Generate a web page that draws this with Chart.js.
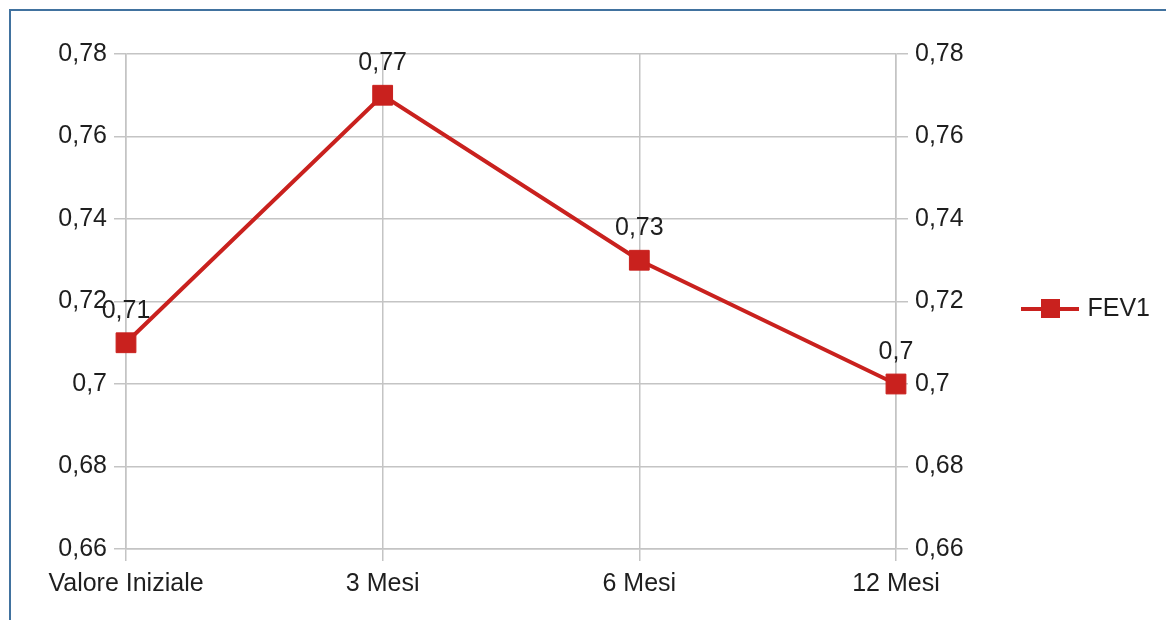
<!DOCTYPE html>
<html>
<head>
<meta charset="utf-8">
<script src="https://cdn.jsdelivr.net/npm/chart.js@4"></script>
<style>
  html, body { margin: 0; padding: 0; background: #fff; overflow: hidden; }
  #frame { position: absolute; left: 9px; top: 9px; width: 1300px; height: 800px;
           border-top: 2px solid #41729f; border-left: 2px solid #41729f; }
  #chart { position: absolute; left: 0; top: 0; }
</style>
</head>
<body>
<div id="frame"></div>
<canvas id="chart" width="1166" height="620"></canvas>
<script>
// data
const categories = ['Valore Iniziale', '3 Mesi', '6 Mesi', '12 Mesi'];
const fev1 = [0.71, 0.77, 0.73, 0.70];
const yTicks = [0.66, 0.68, 0.70, 0.72, 0.74, 0.76, 0.78];

const red = '#c9211e';
const gridColor = '#c4c4c4';
const textColor = '#1e1e1e';
const fontFamily = '"Liberation Sans", Arial, sans-serif';

Chart.defaults.font.family = fontFamily;
Chart.defaults.font.size = 25;
Chart.defaults.color = textColor;

// italian decimal comma, no trailing zero
const fmt = v => String(+(+v).toFixed(2)).replace('.', ',');

// legend symbol: line with a square marker
const legendIcon = document.createElement('canvas');
legendIcon.width = 58;
legendIcon.height = 20;
(function () {
    const c = legendIcon.getContext('2d');
    c.fillStyle = red;
    c.fillRect(0, 8, 58, 4);
    c.fillRect(20, 0, 19, 19);
})();

const valueLabels = {
    id: 'valueLabels',
    afterDatasetsDraw(chart) {
        const ctx = chart.ctx;
        const meta = chart.getDatasetMeta(0);
        ctx.save();
        ctx.font = '25px ' + fontFamily;
        ctx.fillStyle = textColor;
        ctx.textAlign = 'center';
        ctx.textBaseline = 'middle';
        meta.data.forEach((pt, i) => ctx.fillText(fmt(fev1[i]), pt.x, pt.y - 32));
        ctx.restore();
    }
};

const setTicks = scale => { scale.ticks = yTicks.map(v => ({ value: v })); };

new Chart(document.getElementById('chart'), {
    type: 'line',
    data: {
        labels: categories,
        datasets: [{
            label: 'FEV1',
            data: fev1,
            borderColor: red,
            backgroundColor: red,
            borderWidth: 4,
            pointStyle: 'rect',
            pointRadius: 14,
            pointHoverRadius: 14,
            pointBorderWidth: 1,
            pointBackgroundColor: red,
            pointBorderColor: red,
            tension: 0,
            fill: false,
            clip: false
        }]
    },
    options: {
        responsive: false,
        animation: false,
        layout: { padding: { left: 0, top: 54, right: 6, bottom: 0 } },
        plugins: {
            legend: {
                position: 'right',
                fullSize: false,
                title: { display: true, text: '', font: { size: 10 }, padding: { top: 1, bottom: 2 } },
                labels: {
                    usePointStyle: true,
                    pointStyle: legendIcon,
                    pointStyleWidth: 50,
                    padding: 10,
                    color: textColor,
                    font: { size: 25 }
                }
            },
            tooltip: { enabled: false }
        },
        scales: {
            x: {
                offset: false,
                grid: { color: gridColor, lineWidth: 1.5, tickLength: 12, offset: false },
                border: { color: gridColor, width: 1.5 },
                ticks: { padding: 8, maxRotation: 0, autoSkip: false },
                afterFit: s => { s.height = 71; }
            },
            y: {
                position: 'left',
                min: 0.66,
                max: 0.78,
                afterBuildTicks: setTicks,
                grid: { color: gridColor, lineWidth: 1.5, tickLength: 12 },
                border: { color: gridColor, width: 1.5 },
                ticks: { padding: 7, callback: v => fmt(v) },
                afterFit: s => { s.width = 126; }
            },
            y2: {
                position: 'right',
                min: 0.66,
                max: 0.78,
                afterBuildTicks: setTicks,
                grid: { color: gridColor, lineWidth: 1.5, tickLength: 12, drawOnChartArea: false },
                border: { color: gridColor, width: 1.5 },
                ticks: { padding: 7, callback: v => fmt(v) },
                afterFit: s => { s.width = 119; }
            }
        }
    },
    plugins: [valueLabels]
});
</script>
</body>
</html>
